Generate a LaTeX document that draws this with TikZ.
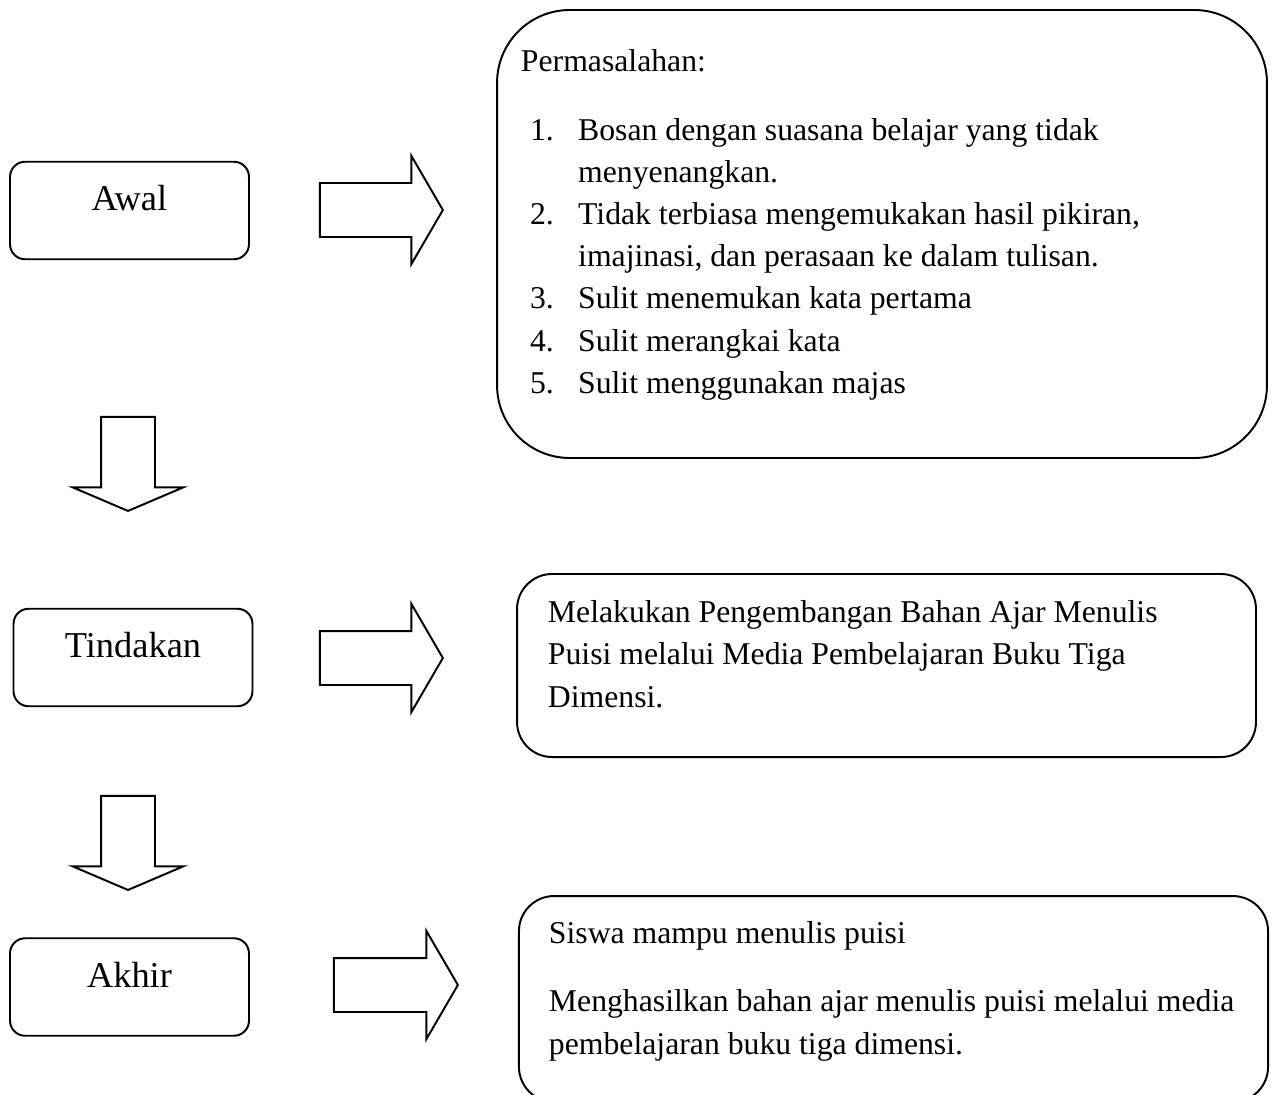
\documentclass[tikz,border=0pt]{standalone}
\usepackage{fontspec}
\setmainfont{Liberation Serif}
\usetikzlibrary{shapes.arrows}

\newcommand{\numline}[2]{\hspace*{3.5pt}\makebox[18.5pt][l]{#1}#2}
\newcommand{\contline}[1]{\hspace*{22pt}#1}

\tikzset{
  stage/.style={draw, rounded corners=5.8pt, inner sep=0pt,
    minimum width=91.9pt, minimum height=37.5pt,
    text height=8pt, text depth=8pt, font=\fontsize{14}{16}\selectfont},
  infobox/.style={draw, inner sep=0pt},
  infotext/.style={anchor=north west, inner sep=0pt, align=left,
    font=\fontsize{12.2}{16.2}\selectfont},
  flowarrow/.style={draw, single arrow, inner xsep=0pt, inner ysep=10pt, anchor=tip},
  rightarrow/.style={flowarrow, minimum height=47.3pt, minimum width=40.8pt,
    single arrow head extend=10.4pt, single arrow tip angle=119.6},
  downarrow/.style={flowarrow, rotate=-90, minimum height=36.2pt, minimum width=41.5pt,
    single arrow head extend=10.8pt, single arrow tip angle=133.8}
}

\begin{document}
\begin{tikzpicture}[x=0.3846pt,y=-0.3846pt,line width=0.75pt]
  \useasboundingbox (0,0) rectangle (1275,1095);

  % stages on the left
  \node (awal) at (129.5,210.5) [stage]{Awal};
  \node (tindakan) at (133,657.5) [stage]{Tindakan};
  \node (akhir) at (129.5,987) [stage]{Akhir};

  % boxes on the right
  \node (masalah) at (882,234) [infobox,rounded corners=28pt,minimum width=296.1pt,minimum height=172.3pt]{};
  \node (aksi) at (886.5,665.5) [infobox,rounded corners=13.5pt,minimum width=284.2pt,minimum height=70.4pt]{};
  \node (hasil) at (893.5,999) [infobox,rounded corners=13.5pt,minimum width=288.1pt,minimum height=79.2pt]{};

  \node (masalahtext) at (520,41.4) [infotext]{\strut Permasalahan:\\[10.2pt]
    \numline{1.}{Bosan dengan suasana belajar yang tidak}\\
    \contline{menyenangkan.}\\
    \numline{2.}{Tidak terbiasa mengemukakan hasil pikiran,}\\
    \contline{imajinasi, dan perasaan ke dalam tulisan.}\\
    \numline{3.}{Sulit menemukan kata pertama}\\
    \numline{4.}{Sulit merangkai kata}\\
    \numline{5.}{Sulit menggunakan majas}};
  \node (aksitext) at (547,592.4) [infotext]{\strut Melakukan Pengembangan Bahan Ajar Menulis\\
    Puisi melalui Media Pembelajaran Buku Tiga\\
    Dimensi.};
  \node (hasiltext) at (548,913.4) [infotext]{\strut Siswa mampu menulis puisi\\[10pt]
    Menghasilkan bahan ajar menulis puisi melalui media\\
    pembelajaran buku tiga dimensi.};

  % block arrows
  \node (awalpanah) at (444,210) [rightarrow]{};
  \node (tindakanpanah) at (444,658) [rightarrow]{};
  \node (akhirpanah) at (459,985) [rightarrow,minimum height=47.7pt]{};
  \node (turun1) at (128,512) [downarrow]{};
  \node (turun2) at (128,891) [downarrow]{};

\end{tikzpicture}
\end{document}
